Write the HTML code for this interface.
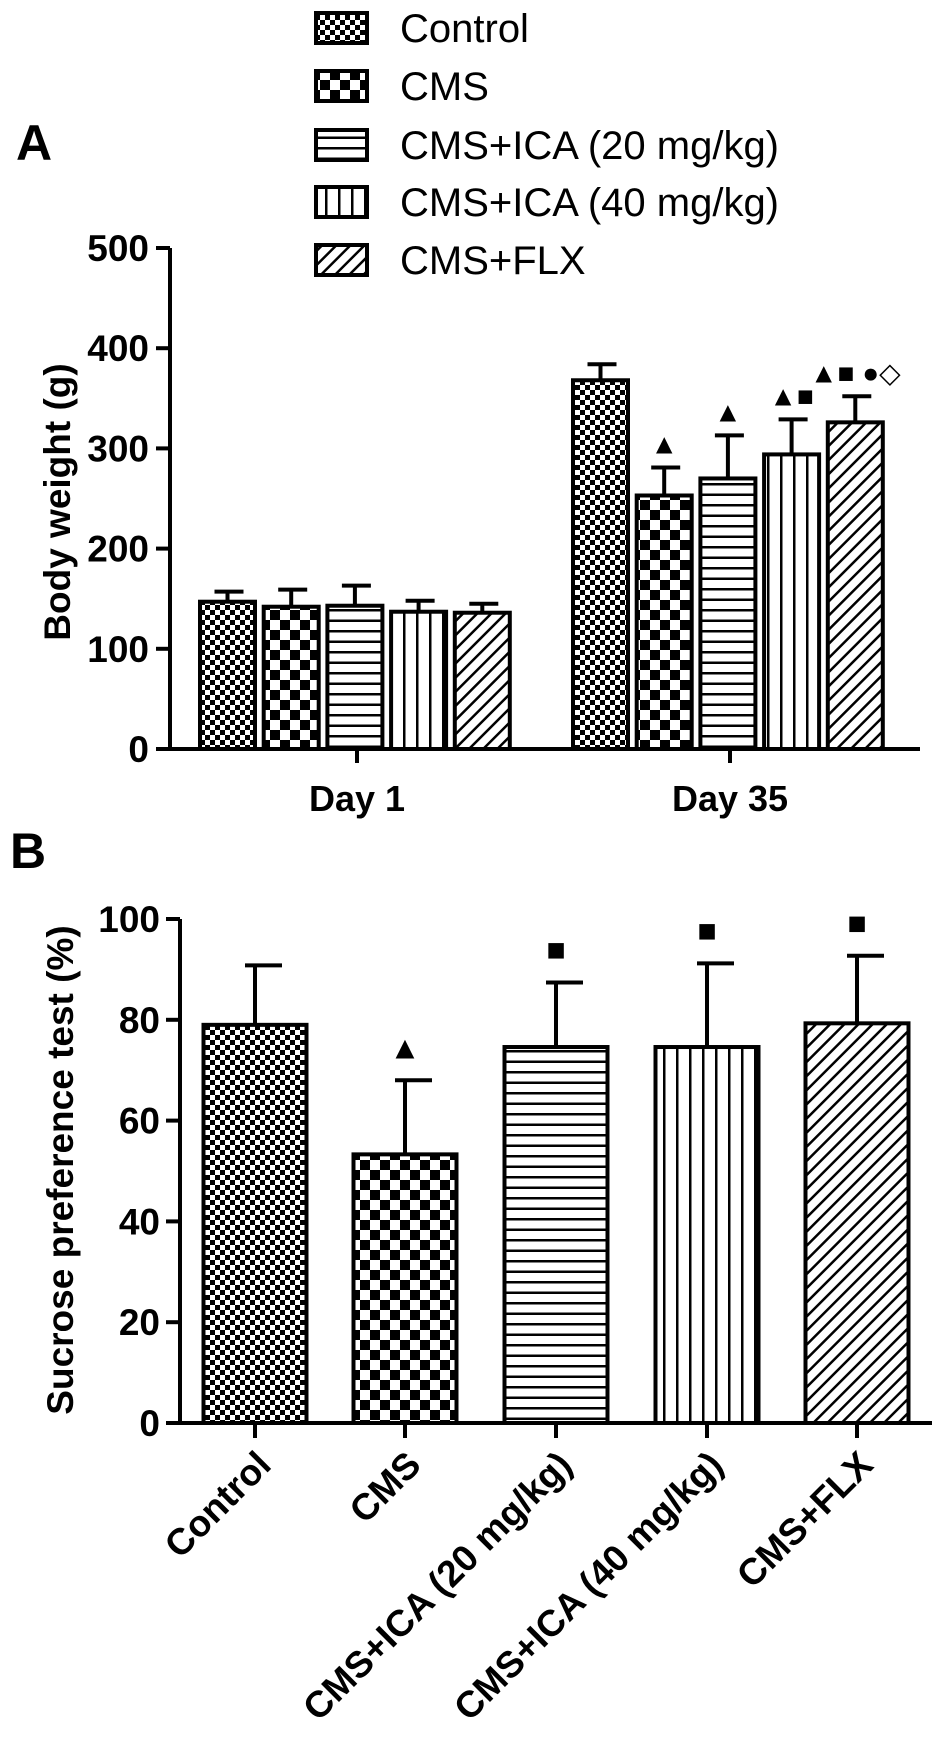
<!DOCTYPE html>
<html><head><meta charset="utf-8"><style>
html,body{margin:0;padding:0;background:#fff}
svg{display:block;font-family:"Liberation Sans",Arial,sans-serif}
</style></head><body>
<svg id="fig" width="945" height="1742" viewBox="0 0 945 1742" xmlns="http://www.w3.org/2000/svg">
<defs>
<pattern id="p0" width="10" height="10" patternUnits="userSpaceOnUse"><rect width="10" height="10" fill="#fff"/><rect width="5" height="5" fill="#000"/><rect x="5" y="5" width="5" height="5" fill="#000"/></pattern>
<pattern id="p1" width="20" height="20" patternUnits="userSpaceOnUse"><rect width="20" height="20" fill="#fff"/><rect width="10" height="10" fill="#000"/><rect x="10" y="10" width="10" height="10" fill="#000"/></pattern>
<pattern id="p2" width="8" height="10.5" patternUnits="userSpaceOnUse"><rect width="8" height="10.5" fill="#fff"/><rect y="0" width="8" height="2.5" fill="#000"/></pattern>
<pattern id="p3" width="13" height="8" patternUnits="userSpaceOnUse"><rect width="13" height="8" fill="#fff"/><rect x="0" width="2.5" height="8" fill="#000"/></pattern>
<pattern id="p4" width="10" height="10" patternUnits="userSpaceOnUse" patternTransform="rotate(45)"><rect width="10" height="10" fill="#fff"/><rect width="2.5" height="10" fill="#000"/></pattern>
</defs>
<g id="A"></g>
<g id="B"></g>
<g id="L"></g>
</svg>
<script>
const groupsA = ["Day 1","Day 35"];
const seriesNames = ["Control","CMS","CMS+ICA (20 mg/kg)","CMS+ICA (40 mg/kg)","CMS+FLX"];
const day1Means = [147,142,143,137,136];
const day1Err = [157,159,163,148,145];
const day35Means = [368,253,270,294,326];
const day35Err = [384,281,313,329,352];
const day35Marks = ["","▲","▲","▲■","▲■ ●◇"];
const ticksA = [0,100,200,300,400,500];
const spMeans = [79,53.3,74.6,74.6,79.3];
const spErr = [90.8,68,87.4,91.2,92.7];
const spMarks = ["","▲","■","■","■"];
const ticksB = [0,20,40,60,80,100];

const NS="http://www.w3.org/2000/svg";
function mk(parent,tag,attrs,text){const e=document.createElementNS(NS,tag);for(const k in attrs)e.setAttribute(k,attrs[k]);if(text!==undefined)e.textContent=text;parent.appendChild(e);return e;}

// Panel A
const A=document.getElementById('A');
const yA=v=>749-v*(749-248)/500;
const axX=170;
let t;
t=mk(A,'text',{x:16,y:160,'font-size':50,'font-weight':'bold'},'A');

const groupStarts=[200,573], bw=55, step=63.7;
[day1Means,day35Means].forEach((means,g)=>{
  const errs=g?day35Err:day1Err;
  means.forEach((v,i)=>{
    const x=groupStarts[g]+i*step, cx=x+bw/2;
    const ln=mk(A,'line',{x1:cx,x2:cx,y1:yA(v),y2:yA(errs[i]),stroke:'#000','stroke-width':4});
    
    const cap=mk(A,'line',{x1:cx-13,x2:cx+16,y1:yA(errs[i]),y2:yA(errs[i]),stroke:'#000','stroke-width':4});
    
    const r=mk(A,'rect',{x:x,y:yA(v),width:bw,height:yA(0)-yA(v),fill:'url(#p'+i+')',stroke:'#000','stroke-width':4});
    
    if(g===1&&day35Marks[i]){
      const m=mk(A,'text',{x:cx,y:yA(errs[i])-14,'font-size':28,'text-anchor':'middle'},day35Marks[i]);
      
    }
  });
});
let ax=mk(A,'path',{d:`M${axX} ${yA(500)}V${yA(0)}H920`,stroke:'#000','stroke-width':4,fill:'none'});

ticksA.forEach(v=>{
  const l=mk(A,'line',{x1:axX-14,x2:axX,y1:yA(v),y2:yA(v),stroke:'#000','stroke-width':4});
  
  const tx=mk(A,'text',{x:149,y:yA(v)+13,'font-size':37,'font-weight':'bold','text-anchor':'end'},v);
  
});
[357,730].forEach((x,g)=>{
  const l=mk(A,'line',{x1:x,x2:x,y1:yA(0),y2:yA(0)+14,stroke:'#000','stroke-width':4});
  
  const tx=mk(A,'text',{x:x,y:811,'font-size':36,'font-weight':'bold','text-anchor':'middle'},groupsA[g]);
  
});
t=mk(A,'text',{x:0,y:0,'font-size':37,'font-weight':'bold','text-anchor':'middle',transform:'translate(70 502) rotate(-90)'},'Body weight (g)');


// Legend
const L=document.getElementById('L');
seriesNames.forEach((n,i)=>{
  const y=[28,86,145,202,260][i];
  const r=mk(L,'rect',{x:316,y:y-15,width:51,height:30,fill:'url(#p'+i+')',stroke:'#000','stroke-width':4});
  
  const tx=mk(L,'text',{x:400,y:y+14,'font-size':40},n);
  
});

// Panel B
const B=document.getElementById('B');
const yB=v=>1423-v*(1423-919)/100;
const bx=180;
t=mk(B,'text',{x:10,y:868,'font-size':50,'font-weight':'bold'},'B');

const centers=[255,405,556,707,857], bwB=103;
spMeans.forEach((v,i)=>{
  const cx=centers[i];
  const ln=mk(B,'line',{x1:cx,x2:cx,y1:yB(v),y2:yB(spErr[i]),stroke:'#000','stroke-width':4});
  
  const cap=mk(B,'line',{x1:cx-10,x2:cx+27,y1:yB(spErr[i]),y2:yB(spErr[i]),stroke:'#000','stroke-width':4});
  
  const r=mk(B,'rect',{x:cx-bwB/2,y:yB(v),width:bwB,height:yB(0)-yB(v),fill:'url(#p'+i+')',stroke:'#000','stroke-width':4});
  
  if(spMarks[i]){
    const m=mk(B,'text',{x:cx,y:yB(spErr[i])-22,'font-size':32,'text-anchor':'middle'},spMarks[i]);
    
  }
  const l=mk(B,'line',{x1:cx,x2:cx,y1:yB(0),y2:yB(0)+15,stroke:'#000','stroke-width':4});
  
  const tx=mk(B,'text',{x:0,y:0,'font-size':37,'font-weight':'bold','text-anchor':'end',transform:`translate(${cx+18} ${yB(0)+44}) rotate(-45)`},seriesNames[i]);
  
});
ax=mk(B,'path',{d:`M${bx} ${yB(100)}V${yB(0)}H932`,stroke:'#000','stroke-width':4,fill:'none'});

ticksB.forEach(v=>{
  const l=mk(B,'line',{x1:bx-14,x2:bx,y1:yB(v),y2:yB(v),stroke:'#000','stroke-width':4});
  
  const tx=mk(B,'text',{x:160,y:yB(v)+13,'font-size':37,'font-weight':'bold','text-anchor':'end'},v);
  
});
t=mk(B,'text',{x:0,y:0,'font-size':37,'font-weight':'bold','text-anchor':'middle',transform:'translate(73 1170) rotate(-90)'},'Sucrose preference test (%)');

</script>
</body></html>
